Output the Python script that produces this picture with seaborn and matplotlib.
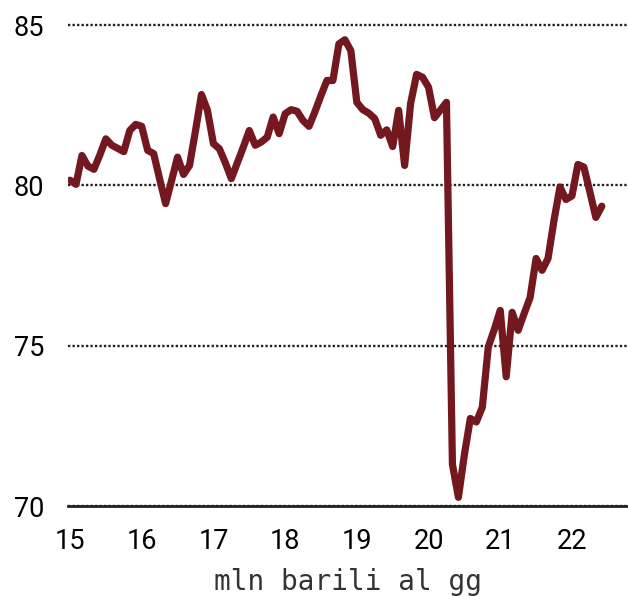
import numpy as np
import pandas as pd
import seaborn as sns
import matplotlib.pyplot as plt

# valori mensili, gen 2015 - giu 2022 (mln barili al giorno)
valori = [80.16, 80.03, 80.93, 80.6, 80.5, 80.95, 81.45, 81.25, 81.15, 81.05, 81.71, 81.9,
          81.84, 81.09, 80.99, 80.2, 79.43, 80.15, 80.88, 80.34, 80.62, 81.7, 82.83, 82.34,
          81.3, 81.14, 80.7, 80.21, 80.7, 81.19, 81.71, 81.25, 81.35, 81.5, 82.13, 81.61,
          82.23, 82.36, 82.31, 82.02, 81.84, 82.3, 82.8, 83.27, 83.27, 84.41, 84.54, 84.2,
          82.59, 82.36, 82.25, 82.08, 81.56, 81.73, 81.21, 82.34, 80.62, 82.55, 83.46, 83.37,
          83.06, 82.11, 82.35, 82.59, 71.3, 70.27, 71.6, 72.73, 72.62, 73.08, 74.96, 75.5,
          76.1, 74.03, 76.04, 75.48, 76.0, 76.5, 77.72, 77.35, 77.72, 78.91, 79.95, 79.56,
          79.67, 80.65, 80.57, 79.8, 79.0, 79.35]
anni = [15, 16, 17, 18, 19, 20, 21, 22]
yticks = [70, 75, 80, 85]

mesi = 15 + np.arange(len(valori)) / 12
df = pd.DataFrame({'anno': mesi, 'valore': valori})

sns.set_theme(style='white')
plt.rcParams['font.family'] = ['Roboto', 'DejaVu Sans']

fig = plt.figure(figsize=(6.28, 5.96), dpi=100)
ax = fig.add_axes([68 / 628, 90 / 596, 560 / 628, 481 / 596])

sns.lineplot(data=df, x='anno', y='valore', ax=ax, color='#741820', linewidth=5.2,
             solid_capstyle='round', solid_joinstyle='round', zorder=3)

ax.set_xlim(14.972, 22.782)
ax.set_ylim(70, 85)
ax.set_xticks(anni)
ax.set_xticklabels([str(a) for a in anni])
ax.set_yticks(yticks)
ax.set_yticklabels([str(v) for v in yticks])
ax.tick_params(axis='both', length=0, labelsize=19.5, labelcolor='#000000')
ax.tick_params(axis='y', pad=17)
ax.tick_params(axis='x', pad=16)

# griglia punteggiata
ax.grid(axis='y', color='#222222', linestyle=(0, (1, 0.9)), linewidth=1.7)
ax.grid(axis='x', visible=False)
for gl in ax.get_ygridlines():
    gl.set_clip_on(False)

for s in ['top', 'right', 'left']:
    ax.spines[s].set_visible(False)
ax.spines['bottom'].set_color('#222222')
ax.spines['bottom'].set_linewidth(2)
ax.spines['bottom'].set_zorder(4)

ax.set_ylabel('')
ax.set_xlabel('mln barili al gg', fontsize=20, family='DejaVu Sans Mono',
              color='#333333', labelpad=9)

fig.savefig('out.png', dpi=100)
